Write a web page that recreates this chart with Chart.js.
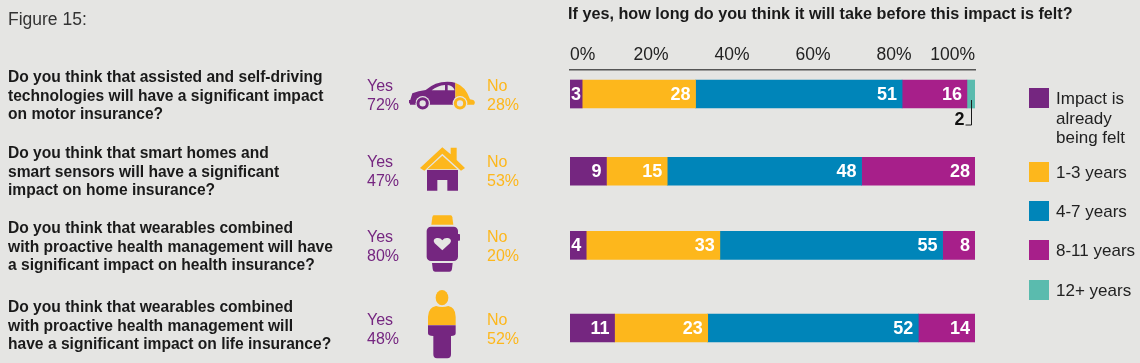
<!DOCTYPE html>
<html>
<head>
<meta charset="utf-8">
<script src="https://cdn.jsdelivr.net/npm/chart.js@4"></script>
<style>
html, body { margin: 0; padding: 0; background: #e5e5e3; }
body { position: relative; width: 1140px; height: 363px; overflow: hidden; font-family: "Liberation Sans", Arial, sans-serif; color: #1f1f1f; }
canvas { position: absolute; left: 0; top: 0; }
.t { position: absolute; white-space: nowrap; }
.q { left: 8px; font-weight: bold; font-size: 15.6px; line-height: 18.5px; color: #1a1a1a; }
.yn { font-size: 16px; line-height: 19px; }
.yes { left: 367px; color: #752680; }
.no { left: 487px; color: #fdb71c; }
.sw { position: absolute; left: 1029px; width: 20px; height: 20px; }
.lg { left: 1056px; font-size: 17px; line-height: 19.5px; color: #222; }
svg.icon { position: absolute; left: 360px; width: 200px; height: 150px; }
</style>
</head>
<body>
<canvas id="chart" width="1140" height="363"></canvas>

<div class="t" style="left:8px;top:9px;font-size:17.5px;color:#333">Figure 15:</div>
<div class="t" style="left:568px;top:4px;font-size:16.2px;font-weight:bold;color:#1a1a1a">If yes, how long do you think it will take before this impact is felt?</div>

<svg class="icon" style="top:60px" viewBox="0 0 600 450">
  <defs>
    <clipPath id="carYes"><rect x="140" y="50" width="146" height="100"/></clipPath>
    <clipPath id="carNo"><rect x="286" y="50" width="70" height="100"/></clipPath>
    <path id="carBody" d="M150 122 L157 100 Q175 93 197 90 Q225 65 262 65 Q312 65 330 118 L340 120 Q348 126 342 134 L150 134 Z"/>
  </defs>
  <use href="#carBody" fill="#752680" clip-path="url(#carYes)"/>
  <use href="#carBody" fill="#fdb71c" clip-path="url(#carNo)"/>
  <path d="M215 91 Q232 77 255 75 L255 91 Z M263 75 Q278 76 284 91 L263 91 Z" fill="#e5e5e3"/>
  <circle cx="188" cy="130" r="22" fill="#e5e5e3"/>
  <circle cx="188" cy="130" r="14" fill="none" stroke="#752680" stroke-width="9"/>
  <circle cx="300" cy="130" r="22" fill="#e5e5e3"/>
  <circle cx="300" cy="130" r="14" fill="none" stroke="#fdb71c" stroke-width="9"/>
  <path d="M150 120 h-3 v10 h20 v-10 z" fill="#752680"/>
  <path d="M247 262 L272 283 L272 263 L290 263 L290 300 L315 324 L303 332 L247 281 L193 332 L180 324 Z" fill="#fdb71c"/>
  <path d="M247 287 L292 328 H202 Z" fill="#fdb71c"/>
  <path d="M201 330 H294 V392 H262 V360 H232 V392 H201 Z" fill="#752680"/>
</svg>
<svg class="icon" style="top:210px;height:153px" viewBox="0 0 600 459">
  <path d="M221 16 H272 Q276 16 277 22 L280 44 H214 L217 22 Q218 16 221 16 Z" fill="#fdb71c"/>
  <rect x="200" y="50" width="94" height="103" rx="13" fill="#752680"/>
  <rect x="292" y="72" width="8" height="20" rx="2" fill="#752680"/>
  <path d="M247 121 L224 100 Q216 88 230 84 Q241 82 247 91 Q253 82 264 84 Q278 88 270 100 Z" fill="#e5e5e3"/>
  <path d="M216 159 H278 L276 176 Q275 185 268 185 H226 Q219 185 218 176 Z" fill="#752680"/>
  <ellipse cx="246" cy="263" rx="19" ry="23" fill="#fdb71c"/>
  <path d="M204 345 V320 Q205 292 228 288 Q246 294 265 288 Q287 292 287 320 V345 Z" fill="#fdb71c"/>
  <path d="M204 346 H287 V370 Q287 378 273 378 V433 Q273 445 262 445 H231 Q220 445 220 433 V378 Q204 378 204 370 Z" fill="#752680"/>
</svg>

<script>
const figureRows = ["motor", "home", "health", "life"];
const questions = [
  ["Do you think that assisted and self-driving", "technologies will have a significant impact", "on motor insurance?"],
  ["Do you think that smart homes and", "smart sensors will have a significant", "impact on home insurance?"],
  ["Do you think that wearables combined", "with proactive health management will have", "a significant impact on health insurance?"],
  ["Do you think that wearables combined", "with proactive health management will", "have a significant impact on life insurance?"]
];
const yesShare = [72, 47, 80, 48];
const noShare = [28, 53, 20, 52];

const seriesNames = ["Impact is already being felt", "1-3 years", "4-7 years", "8-11 years", "12+ years"];
const seriesColors = ["#752680", "#fdb71c", "#0085b9", "#a71f8a", "#5abbae"];
const felt = [3, 9, 4, 11];
const y1to3 = [28, 15, 33, 23];
const y4to7 = [51, 48, 55, 52];
const y8to11 = [16, 28, 8, 14];
const y12plus = [2, 0, 0, 0];
const tickValues = [0, 20, 40, 60, 80, 100];

// rows are not evenly spaced in the original, third one sits a bit higher
const rowSlots = [0, 0.99, 1.94, 3];

// page text tops, by row
const questionTop = [68, 144, 219, 298];
const answerTop = [76, 152, 227, 310];

questions.forEach(function (lines, i) {
  const d = document.createElement("div");
  d.className = "t q";
  d.style.top = questionTop[i] + "px";
  d.innerHTML = lines.join("<br>");
  document.body.appendChild(d);

  const y = document.createElement("div");
  y.className = "t yn yes";
  y.style.top = answerTop[i] + "px";
  y.innerHTML = "Yes<br>" + yesShare[i] + "%";
  document.body.appendChild(y);

  const n = document.createElement("div");
  n.className = "t yn no";
  n.style.top = answerTop[i] + "px";
  n.innerHTML = "No<br>" + noShare[i] + "%";
  document.body.appendChild(n);
});

// legend
const legendLines = [["Impact is", "already", "being felt"], ["1-3 years"], ["4-7 years"], ["8-11 years"], ["12+ years"]];
const legendTop = [88, 162, 201, 240, 280];
legendLines.forEach(function (lines, i) {
  const s = document.createElement("div");
  s.className = "sw";
  s.style.top = legendTop[i] + "px";
  s.style.background = seriesColors[i];
  document.body.appendChild(s);
  const l = document.createElement("div");
  l.className = "t lg";
  l.style.top = (legendTop[i] + 1) + "px";
  l.innerHTML = lines.join("<br>");
  document.body.appendChild(l);
});

const barLabels = {
  id: "barLabels",
  afterDatasetsDraw: function (chart) {
    const ctx = chart.ctx;
    ctx.save();
    ctx.font = "bold 18px 'Liberation Sans', Arial, sans-serif";
    ctx.textBaseline = "middle";
    chart.data.datasets.forEach(function (ds, d) {
      chart.getDatasetMeta(d).data.forEach(function (bar, i) {
        const v = ds.data[i].x;
        if (!v) return;
        if (v <= 2) {
          // too thin for a label: leader line under the bar
          ctx.strokeStyle = "#1a1a1a";
          ctx.lineWidth = 1;
          const lx = Math.round((bar.x + bar.base) / 2) + 0.5;
          ctx.beginPath();
          ctx.moveTo(lx, bar.y + 6);
          ctx.lineTo(lx, bar.y + 31);
          ctx.lineTo(lx - 6, bar.y + 31);
          ctx.stroke();
          ctx.fillStyle = "#111";
          ctx.textAlign = "right";
          ctx.fillText(String(v), lx - 7, bar.y + 26);
          return;
        }
        ctx.fillStyle = "#fff";
        if (v <= 3) {
          ctx.textAlign = "center";
          ctx.fillText(String(v), (bar.x + bar.base) / 2, bar.y + 1);
        } else {
          ctx.textAlign = "right";
          ctx.fillText(String(v), bar.x - 5, bar.y + 1);
        }
      });
    });
    ctx.restore();
  }
};

const seriesValues = [felt, y1to3, y4to7, y8to11, y12plus];

new Chart(document.getElementById("chart").getContext("2d"), {
  type: "bar",
  plugins: [barLabels],
  data: {
    labels: figureRows,
    datasets: seriesValues.map(function (values, s) {
      return {
        label: seriesNames[s],
        backgroundColor: seriesColors[s],
        barThickness: 28,
        borderWidth: 0,
        data: values.map(function (v, i) { return { x: v, y: rowSlots[i] }; })
      };
    })
  },
  options: {
    indexAxis: "y",
    responsive: false,
    animation: false,
    layout: { padding: { left: 570, right: 165, top: 41, bottom: 11 } },
    plugins: { legend: { display: false }, tooltip: { enabled: false } },
    scales: {
      x: {
        type: "linear",
        position: "top",
        stacked: true,
        min: 0,
        max: 100,
        afterBuildTicks: function (axis) {
          axis.ticks = tickValues.map(function (v) { return { value: v }; });
        },
        grid: { display: false, drawTicks: false },
        border: { display: true, color: "#555", width: 1.5 },
        ticks: {
          align: "inner",
          color: "#222",
          padding: 4,
          maxRotation: 0,
          autoSkip: false,
          font: { family: "'Liberation Sans', Arial, sans-serif", size: 17.5 },
          callback: function (v) { return v + "%"; }
        }
      },
      y: {
        type: "linear",
        display: false,
        offset: false,
        reverse: true,
        stacked: true,
        min: -0.308,
        max: 3.308
      }
    }
  }
});
</script>
</body>
</html>
